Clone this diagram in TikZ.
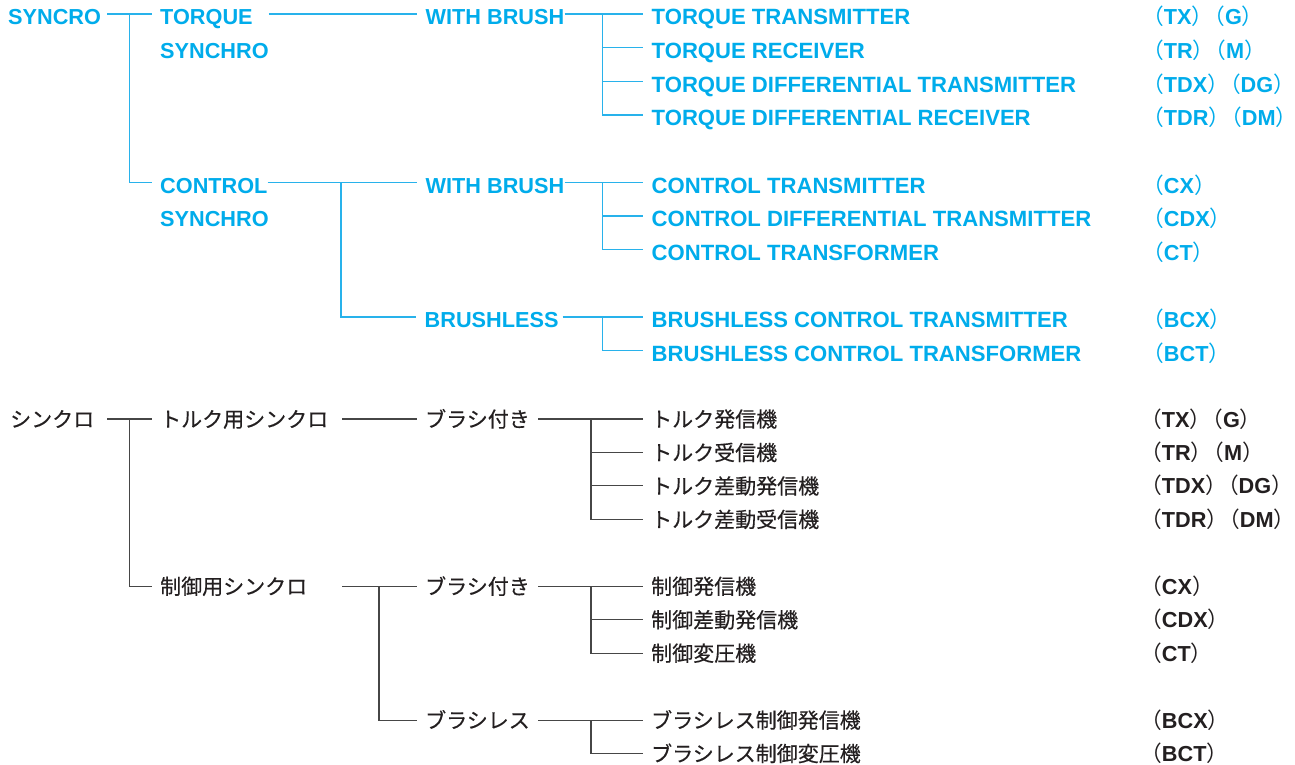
\documentclass[tikz,border=0pt]{standalone}
\usepackage{fontspec}
\setmainfont{Liberation Sans}
\newfontfamily\cjk{Noto Sans CJK JP}
\newfontfamily\cjkm{Noto Sans CJK JP}[FakeBold=0.3]
\definecolor{cyanT}{RGB}{0,172,235}
\definecolor{cyanL}{RGB}{40,178,235}
\definecolor{inkK}{RGB}{35,31,32}
\definecolor{grayL}{RGB}{70,70,70}
\newcommand\enfont{\fontsize{21.7pt}{26pt}\selectfont\bfseries}
\newcommand\leaffont{\fontsize{22.1pt}{26pt}\selectfont\bfseries}
\newcommand\jpfont{\cjkm\fontsize{21pt}{25pt}\selectfont}
\newcommand\Lpr{{\cjk\mdseries （}}
\newcommand\Rpr{{\cjk\mdseries ）}}
\newcommand\codeA[1]{\Lpr#1\Rpr}
\newcommand\codeB[2]{\Lpr#1\Rpr\kern-10pt\Lpr#2\Rpr}
\tikzset{
  en/.style={anchor=west, inner sep=0pt, text height=21.6pt, text depth=0pt, text=cyanT, font=\enfont},
  enleaf/.style={en, font=\leaffont},
  jp/.style={anchor=west, inner sep=0pt, text height=16pt, text depth=0pt, text=inkK, font=\jpfont},
  jcode/.style={anchor=west, inner sep=0pt, text height=16pt, text depth=0pt, text=inkK, font=\enfont},
  bline/.style={draw=cyanL, line width=1.2pt},
  kline/.style={draw=grayL, line width=1.1pt},
}
\begin{document}
\begin{tikzpicture}[x=1pt, y=-1pt]
\fill[white] (0,0) rectangle (1295,764);
\useasboundingbox (0,0) rectangle (1295,764);

% ---------------- English (top) ----------------
\node[en] (syncro)  at (8,14.0)     {SYNCRO};
\node[en] (torque)  at (160,14.0)   {TORQUE};
\node[en] (tsync)   at (160,47.7)   {SYNCHRO};
\node[en] (control) at (160,182.4)  {CONTROL};
\node[en] (csync)   at (160,216.0)  {SYNCHRO};
\node[en] (wbA)     at (425.5,14.0) {WITH BRUSH};
\node[en] (wbB)     at (425.5,182.4){WITH BRUSH};
\node[en] (bls)     at (424.5,317.0){BRUSHLESS};

\node[enleaf] (tx)  at (651.5,14.0)  {TORQUE TRANSMITTER};
\node[enleaf] (tr)  at (651.5,47.7)  {TORQUE RECEIVER};
\node[enleaf] (tdx) at (651.5,81.3)  {TORQUE DIFFERENTIAL TRANSMITTER};
\node[enleaf] (tdr) at (651.5,115.0) {TORQUE DIFFERENTIAL RECEIVER};
\node[enleaf] (cx)  at (651.5,182.4) {CONTROL TRANSMITTER};
\node[enleaf] (cdx) at (651.5,216.0) {CONTROL DIFFERENTIAL TRANSMITTER};
\node[enleaf] (ct)  at (651.5,249.7) {CONTROL TRANSFORMER};
\node[enleaf] (bcx) at (651.5,317.0) {BRUSHLESS CONTROL TRANSMITTER};
\node[enleaf] (bct) at (651.5,350.7) {BRUSHLESS CONTROL TRANSFORMER};

\node[en] (ktx)  at (1142,14.0)  {\codeB{TX}{G}};
\node[en] (ktr)  at (1142,47.7)  {\codeB{TR}{M}};
\node[en] (ktdx) at (1142,81.3)  {\codeB{TDX}{DG}};
\node[en] (ktdr) at (1142,115.0) {\codeB{TDR}{DM}};
\node[en] (kcx)  at (1142,182.4) {\codeA{CX}};
\node[en] (kcdx) at (1142,216.0) {\codeA{CDX}};
\node[en] (kct)  at (1142,249.7) {\codeA{CT}};
\node[en] (kbcx) at (1142,317.0) {\codeA{BCX}};
\node[en] (kbct) at (1142,350.7) {\codeA{BCT}};

\coordinate (ej0) at (129.3,14.0);
\coordinate (ej1) at (341,182.4);
\coordinate (ej2) at (602.3,14.0);
\coordinate (ej3) at (602.3,182.4);
\coordinate (ej4) at (602.3,317.0);

\draw[bline] ([xshift=6pt]syncro.east) -- ([xshift=-8.5pt]torque.west);
\draw[bline] (ej0) |- ([xshift=-8.5pt]control.west);
\draw[bline] (tsync.east |- torque.east) -- ([xshift=-8.5pt]wbA.west);
\draw[bline] (control.east) -- ([xshift=-8.5pt]wbB.west);
\draw[bline] (ej1) |- ([xshift=-8.5pt]bls.west);

\draw[bline] (wbA.east) -- ([xshift=-8.5pt]tx.west);
\draw[bline] (ej2) |- ([xshift=-8.5pt]tdr.west);
\draw[bline] (ej2 |- tr.west) -- ([xshift=-8.5pt]tr.west);
\draw[bline] (ej2 |- tdx.west) -- ([xshift=-8.5pt]tdx.west);

\draw[bline] (wbB.east) -- ([xshift=-8.5pt]cx.west);
\draw[bline] (ej3) |- ([xshift=-8.5pt]ct.west);
\draw[bline] (ej3 |- cdx.west) -- ([xshift=-8.5pt]cdx.west);

\draw[bline] ([xshift=4pt]bls.east) -- ([xshift=-8.5pt]bcx.west);
\draw[bline] (ej4) |- ([xshift=-8.5pt]bct.west);

% ---------------- Japanese (bottom) ----------------
\node[jp] (jsync)    at (10,419)     {シンクロ};
\node[jp] (jtorque)  at (160,419)    {トルク用シンクロ};
\node[jp] (jcontrol) at (160,586.25) {制御用シンクロ};
\node[jp] (jwbA)     at (425,419)    {ブラシ付き};
\node[jp] (jwbB)     at (425,586.25) {ブラシ付き};
\node[jp] (jbls)     at (425,720.05) {ブラシレス};

\node[jp] (jtx)  at (651,419)    {トルク発信機};
\node[jp] (jtr)  at (651,452.45) {トルク受信機};
\node[jp] (jtdx) at (651,485.9)  {トルク差動発信機};
\node[jp] (jtdr) at (651,519.35) {トルク差動受信機};
\node[jp] (jcx)  at (651,586.25) {制御発信機};
\node[jp] (jcdx) at (651,619.7)  {制御差動発信機};
\node[jp] (jct)  at (651,653.15) {制御変圧機};
\node[jp] (jbcx) at (651,720.05) {ブラシレス制御発信機};
\node[jp] (jbct) at (651,753.5)  {ブラシレス制御変圧機};

\node[jcode] (qtx)  at (1140,419)    {\codeB{TX}{G}};
\node[jcode] (qtr)  at (1140,452.45) {\codeB{TR}{M}};
\node[jcode] (qtdx) at (1140,485.9)  {\codeB{TDX}{DG}};
\node[jcode] (qtdr) at (1140,519.35) {\codeB{TDR}{DM}};
\node[jcode] (qcx)  at (1140,586.25) {\codeA{CX}};
\node[jcode] (qcdx) at (1140,619.7)  {\codeA{CDX}};
\node[jcode] (qct)  at (1140,653.15) {\codeA{CT}};
\node[jcode] (qbcx) at (1140,720.05) {\codeA{BCX}};
\node[jcode] (qbct) at (1140,753.5)  {\codeA{BCT}};

\coordinate (jj0) at (129.3,419);
\coordinate (jj1) at (379,586.25);
\coordinate (jj2) at (591,419);
\coordinate (jj3) at (591,586.25);
\coordinate (jj4) at (591,720.05);

\draw[kline] ([xshift=13pt]jsync.east) -- ([xshift=-8pt]jtorque.west);
\draw[kline] (jj0) |- ([xshift=-8pt]jcontrol.west);
\draw[kline] ([xshift=13.7pt]jtorque.east) -- ([xshift=-8.3pt]jwbA.west);
\draw[kline] ([xshift=13.7pt]jtorque.east |- jcontrol.east) -- ([xshift=-8.3pt]jwbB.west);
\draw[kline] (jj1) |- ([xshift=-8.3pt]jbls.west);

\draw[kline] ([xshift=8.3pt]jwbA.east) -- ([xshift=-8.3pt]jtx.west);
\draw[kline] (jj2) |- ([xshift=-8.3pt]jtdr.west);
\draw[kline] (jj2 |- jtr.west) -- ([xshift=-8.3pt]jtr.west);
\draw[kline] (jj2 |- jtdx.west) -- ([xshift=-8.3pt]jtdx.west);

\draw[kline] ([xshift=8.3pt]jwbB.east) -- ([xshift=-8.3pt]jcx.west);
\draw[kline] (jj3) |- ([xshift=-8.3pt]jct.west);
\draw[kline] (jj3 |- jcdx.west) -- ([xshift=-8.3pt]jcdx.west);

\draw[kline] ([xshift=8.3pt]jbls.east) -- ([xshift=-8.3pt]jbcx.west);
\draw[kline] (jj4) |- ([xshift=-8.3pt]jbct.west);
\end{tikzpicture}
\end{document}
